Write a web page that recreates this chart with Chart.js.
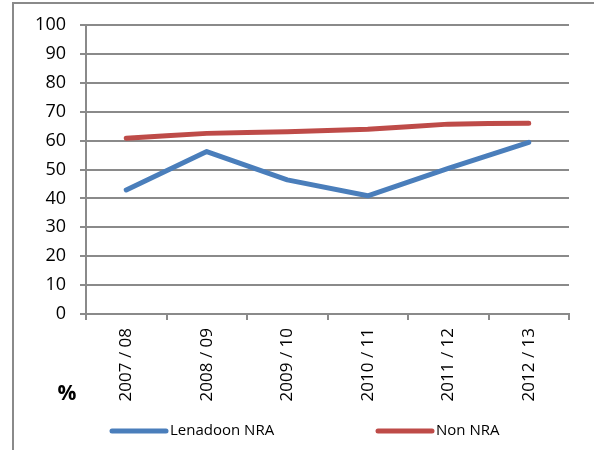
<!DOCTYPE html>
<html>
<head>
<meta charset="utf-8">
<script src="https://cdn.jsdelivr.net/npm/chart.js@4"></script>
<style>
  body { margin: 0; overflow: hidden; background: #fff; }
  #wrap { position: relative; width: 594px; height: 450px; }
  #frame { position: absolute; left: 12px; top: 2px; width: 700px; height: 600px;
           border: 2px solid #8a8a8a; box-sizing: border-box; }
  canvas { position: absolute; left: 0; top: 0; }
</style>
</head>
<body>
<div id="wrap">
  <div id="frame"></div>
  <canvas id="lineChart" width="594" height="450"></canvas>
</div>
<script>
// years on the x axis
const years = ['2007 / 08', '2008 / 09', '2009 / 10', '2010 / 11', '2011 / 12', '2012 / 13'];
// percentages
const lenadoonNra = [42.9, 56.2, 46.4, 40.9, 50.4, 59.4];
const nonNra = [60.8, 62.5, 63.1, 63.9, 65.7, 66.0];

const seriesNames = ['Lenadoon NRA', 'Non NRA'];
const seriesColors = ['#4a7ebb', '#be4b48'];
const fontFamily = "'Open Sans', 'Noto Sans', sans-serif";

// draws the '%' note and the legend under the axis
const extrasPlugin = {
    id: 'extras',
    afterDraw(chart) {
        const ctx = chart.ctx;
        ctx.save();
        ctx.fillStyle = '#000';
        ctx.font = 'bold 21px ' + fontFamily;
        ctx.textAlign = 'center';
        ctx.textBaseline = 'middle';
        ctx.fillText('%', 67, 394);

        const legendX = [112, 378];
        ctx.font = '15px ' + fontFamily;
        ctx.textAlign = 'left';
        chart.data.datasets.forEach((ds, i) => {
            const x = legendX[i];
            ctx.strokeStyle = ds.borderColor;
            ctx.lineWidth = 5;
            ctx.lineCap = 'round';
            ctx.beginPath();
            ctx.moveTo(x, 431);
            ctx.lineTo(x + 54, 431);
            ctx.stroke();
            ctx.fillText(ds.label, x + 58, 431);
        });
        ctx.restore();
    }
};

const ctx = document.getElementById('lineChart').getContext('2d');
const lineChart = new Chart(ctx, {
    type: 'line',
    data: {
        labels: years,
        datasets: [{
            label: seriesNames[0],
            data: lenadoonNra,
            borderColor: seriesColors[0],
            backgroundColor: seriesColors[0],
            borderWidth: 5,
            pointRadius: 0,
            tension: 0,
            borderCapStyle: 'round',
            borderJoinStyle: 'round'
        }, {
            label: seriesNames[1],
            data: nonNra,
            borderColor: seriesColors[1],
            backgroundColor: seriesColors[1],
            borderWidth: 5,
            pointRadius: 0,
            tension: 0.1,
            borderCapStyle: 'round',
            borderJoinStyle: 'round'
        }]
    },
    options: {
        responsive: false,
        animation: false,
        layout: { padding: { left: 0, right: 25, top: 25, bottom: 0 } },
        plugins: {
            legend: { display: false },
            tooltip: { enabled: false }
        },
        scales: {
            x: {
                offset: true,
                grid: {
                    offset: true,
                    drawOnChartArea: false,
                    drawTicks: true,
                    tickLength: 6,
                    color: '#8a8a8a',
                    lineWidth: 2
                },
                border: { color: '#8a8a8a', width: 2 },
                ticks: {
                    minRotation: 90,
                    maxRotation: 90,
                    padding: 8,
                    color: '#000',
                    font: { family: fontFamily, size: 17 }
                },
                afterFit(scale) { scale.height = 136; }
            },
            y: {
                min: 0,
                max: 100,
                ticks: {
                    stepSize: 10,
                    padding: 14,
                    color: '#000',
                    font: { family: fontFamily, size: 18 }
                },
                grid: {
                    color: '#8a8a8a',
                    lineWidth: 2,
                    tickLength: 6
                },
                border: { color: '#8a8a8a', width: 2 },
                afterFit(scale) { scale.width = 86; }
            }
        }
    },
    plugins: [extrasPlugin]
});
</script>
</body>
</html>
